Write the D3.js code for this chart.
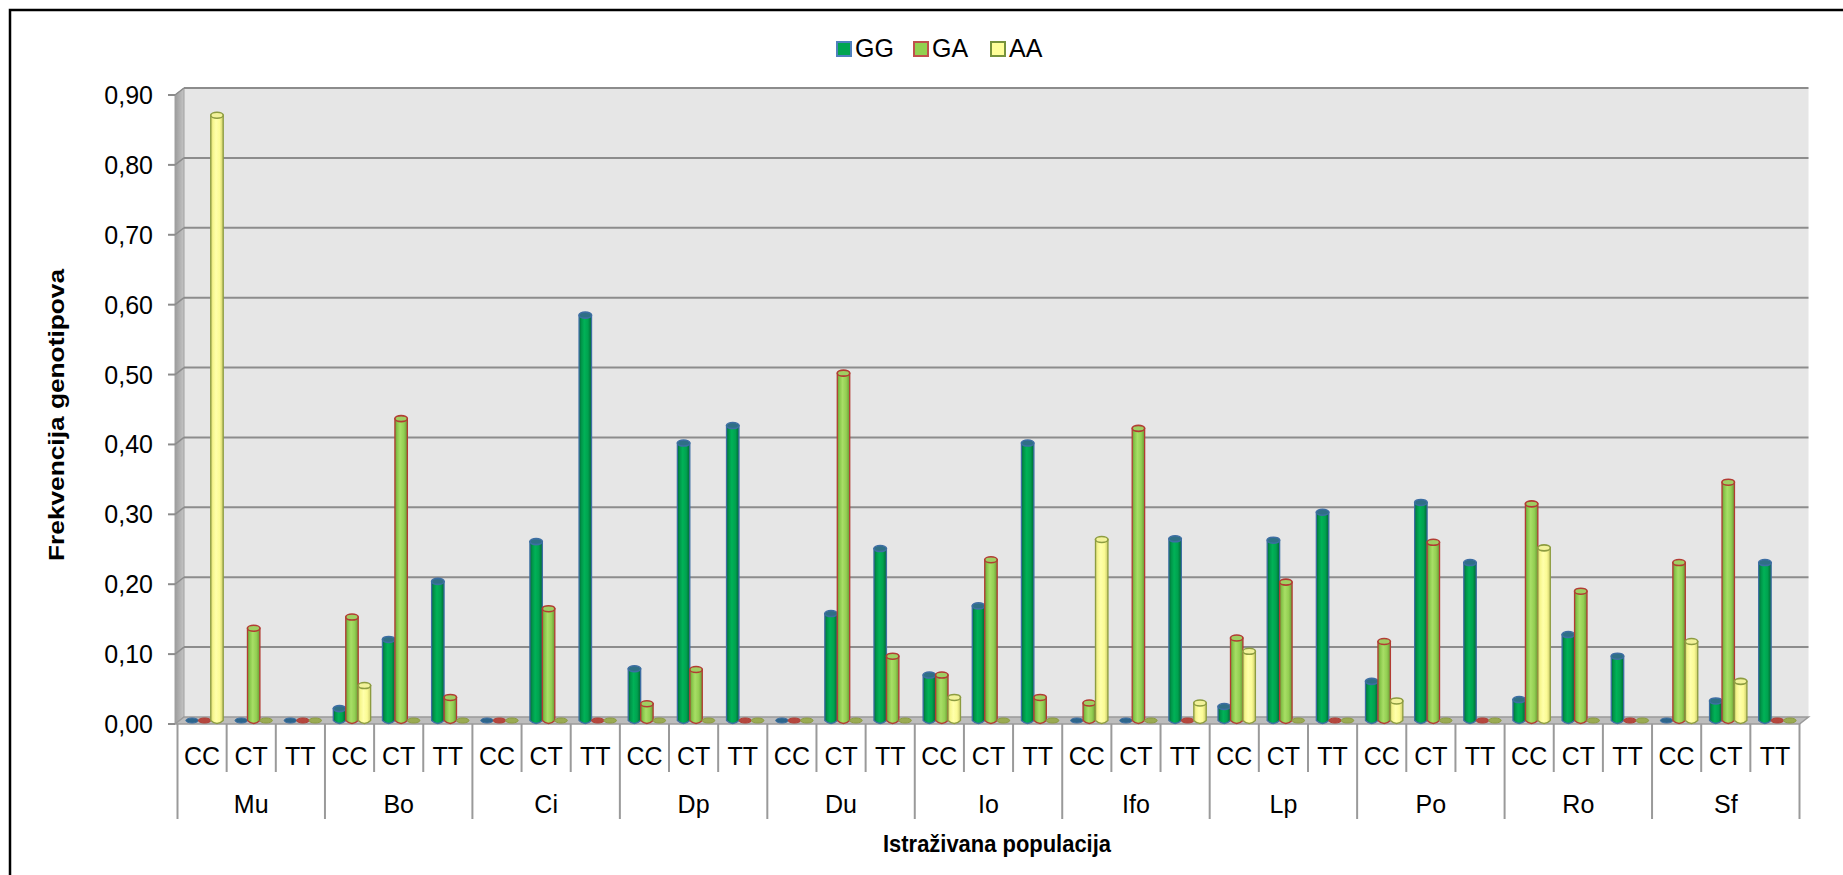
<!DOCTYPE html>
<html><head><meta charset="utf-8">
<script src="https://cdn.jsdelivr.net/npm/d3@7"></script>
<style>
html,body{margin:0;padding:0;background:#fff;overflow:hidden}
svg{display:block;font-family:"Liberation Sans",Arial,sans-serif}
</style></head>
<body><svg id="c" width="1843" height="875"></svg>
<script>
// ---------- data ----------
const groups = ["Mu","Bo","Ci","Dp","Du","Io","Ifo","Lp","Po","Ro","Sf"];
const genotypes = ["CC","CT","TT"];
const seriesNames = ["GG","GA","AA"];
const yTickValues = [0,0.1,0.2,0.3,0.4,0.5,0.6,0.7,0.8,0.9];
const yTickLabels = ["0,00","0,10","0,20","0,30","0,40","0,50","0,60","0,70","0,80","0,90"];
// values per (group, genotype) in order Mu-CC, Mu-CT, Mu-TT, Bo-CC, ...
const GG = [0,0,0, 0.017,0.116,0.199, 0,0.256,0.580, 0.074,0.397,0.422, 0,0.153,0.246,
            0.065,0.164,0.397, 0,0,0.260, 0.020,0.258,0.298, 0.056,0.312,0.226,
            0.030,0.123,0.092, 0,0.028,0.226];
const GA = [0,0.132,0, 0.148,0.432,0.033, 0,0.160,0, 0.024,0.073,0, 0,0.497,0.092,
            0.065,0.230,0.033, 0.025,0.418,0, 0.118,0.198,0, 0.113,0.255,0,
            0.310,0.185,0, 0.226,0.341,0];
const AA = [0.866,0,0, 0.050,0,0, 0,0,0, 0,0,0, 0,0,0,
            0.033,0,0, 0.259,0,0.025, 0.099,0,0, 0.028,0,0,
            0.247,0,0, 0.113,0.056,0];
const yTitle = "Frekvencija genotipova";
const xTitle = "Istraživana populacija";

const seriesValues = {GG:GG, GA:GA, AA:AA};
const style = {
  GG:{stops:["#006a36","#009549","#00b257","#00a24f","#006632"], stroke:"#3d6ea3", top:"#2f6f86", zero:"#2d668c", legStroke:"#4f81bd", leg:"#00a550"},
  GA:{stops:["#6c9c38","#88c64a","#a8de66","#93cf52","#6a9936"], stroke:"#b23c33", top:"#9fcf62", zero:"#b5473e", legStroke:"#c0504d", leg:"#92d050"},
  AA:{stops:["#d0d070","#f6f68e","#ffffaa","#fbfb95","#cccc6a"], stroke:"#8d9c40", top:"#f2f29a", zero:"#9aab52", legStroke:"#77933c", leg:"#ffff99"}
};

// ---------- layout ----------
const svg = d3.select("#c");
const frontX0 = 177.5, frontX1 = 1799.5;
const DX = 9, DY = -7;
const front0 = 724, front9 = 95;

const cats = [];
groups.forEach(g => genotypes.forEach(t => cats.push(g + "|" + t)));

const xSub = d3.scaleBand().domain(cats).range([frontX0, frontX1]).padding(0);
const bw = xSub.bandwidth();
const xSer = d3.scaleBand().domain(seriesNames).range([bw*0.17, bw*0.93]).padding(0);
const yFront = d3.scaleLinear().domain([0,0.9]).range([front0, front9]);
const yBack = d3.scaleLinear().domain([0,0.9]).range([front0+DY, front9+DY]);
const yBar = d3.scaleLinear().domain([0,0.9]).range([front0+DY/2, front9+DY/2]);

const defs = svg.append("defs");
seriesNames.forEach(s => {
  const g = defs.append("linearGradient").attr("id","g_"+s).attr("x1","0").attr("x2","1").attr("y1","0").attr("y2","0");
  const offs = [0,0.18,0.42,0.72,1];
  style[s].stops.forEach((c,i)=> g.append("stop").attr("offset",offs[i]).attr("stop-color",c));
});
const wallG = defs.append("linearGradient").attr("id","wallG").attr("x1","0").attr("x2","1").attr("y1","0").attr("y2","0");
wallG.append("stop").attr("offset",0).attr("stop-color","#9c9c9c");
wallG.append("stop").attr("offset",1).attr("stop-color","#c4c4c4");

// outer border
svg.append("rect").attr("x",10).attr("y",10).attr("width",1900).attr("height",900)
  .attr("fill","#fff").attr("stroke","#000").attr("stroke-width",2.5);

// back wall
const bx0 = frontX0 - 2.5 + DX, bx1 = frontX1 + DX;
svg.append("rect").attr("x",bx0).attr("y",yBack(0.9)).attr("width",bx1-bx0)
  .attr("height",yBack(0)-yBack(0.9)).attr("fill","#e6e6e6");

// left side wall
const lx = frontX0 - 2.5;
svg.append("polygon").attr("points",[[lx,yFront(0.9)],[lx+DX,yBack(0.9)],[lx+DX,yBack(0)],[lx,yFront(0)]].join(" "))
  .attr("fill","url(#wallG)").attr("stroke","#a0a0a0").attr("stroke-width",1);

// gridlines
const grid = svg.append("g");
yTickValues.filter(v=>v>0).forEach(v=>{
  grid.append("line").attr("x1",lx+DX).attr("x2",bx1).attr("y1",yBack(v)).attr("y2",yBack(v))
    .attr("stroke","#8c8c8c").attr("stroke-width",2);
  grid.append("line").attr("x1",lx).attr("x2",lx+DX).attr("y1",yFront(v)).attr("y2",yBack(v))
    .attr("stroke","#8c8c8c").attr("stroke-width",1.5);
});

// floor
svg.append("polygon").attr("points",[[lx,yFront(0)],[lx+DX,yBack(0)],[bx1,yBack(0)],[frontX1,yFront(0)]].join(" "))
  .attr("fill","#bdbdbd").attr("stroke","#9a9a9a").attr("stroke-width",1.5);

// y axis ticks & labels
const yAxis = svg.append("g");
yTickValues.forEach((v,i)=>{
  yAxis.append("line").attr("x1",lx-7).attr("x2",lx).attr("y1",yFront(v)).attr("y2",yFront(v))
    .attr("stroke","#8c8c8c").attr("stroke-width",2);
  yAxis.append("text").attr("x",153).attr("y",yFront(v)+9).attr("text-anchor","end")
    .attr("font-size",25).attr("fill","#000").text(yTickLabels[i]);
});

// bars
const bars = svg.append("g");
const ry = 3;
cats.forEach((c,ci)=>{
  seriesNames.forEach(s=>{
    const v = seriesValues[s][ci];
    const w = xSer.bandwidth();
    const x0 = xSub(c) + xSer(s);
    const cx = x0 + w/2;
    const base = yBar(0);
    const st = style[s];
    if (v <= 0.0005) {
      bars.append("ellipse").attr("cx",cx).attr("cy",base).attr("rx",w/2).attr("ry",ry-0.5)
        .attr("fill",st.zero).attr("stroke",st.stroke).attr("stroke-width",1);
      return;
    }
    const top = yBar(v);
    const p = d3.path();
    p.moveTo(x0, top);
    p.lineTo(x0, base);
    p.quadraticCurveTo(cx, base + ry*2, x0 + w, base);
    p.lineTo(x0 + w, top);
    p.closePath();
    bars.append("path").attr("d",p.toString()).attr("fill","url(#g_"+s+")")
      .attr("stroke",st.stroke).attr("stroke-width",1.3);
    bars.append("ellipse").attr("cx",cx).attr("cy",top).attr("rx",w/2).attr("ry",ry)
      .attr("fill",st.top).attr("stroke",st.stroke).attr("stroke-width",1.6);
  });
});

// category axis separators and labels
const xAxis = svg.append("g");
const sepTop = yFront(0);
cats.forEach((c,ci)=>{
  const xl = xSub(c);
  const isGroupStart = ci % 3 === 0;
  xAxis.append("line").attr("x1",xl).attr("x2",xl).attr("y1",sepTop).attr("y2",isGroupStart?819:772)
    .attr("stroke","#9a9a9a").attr("stroke-width",2);
  xAxis.append("text").attr("x",xl+bw/2).attr("y",765).attr("text-anchor","middle")
    .attr("font-size",25).attr("fill","#000").text(c.split("|")[1]);
});
xAxis.append("line").attr("x1",frontX1).attr("x2",frontX1).attr("y1",sepTop).attr("y2",819)
  .attr("stroke","#9a9a9a").attr("stroke-width",2);
groups.forEach(g=>{
  const xl = xSub(g+"|CC"), xr = xSub(g+"|TT") + bw;
  xAxis.append("text").attr("x",(xl+xr)/2).attr("y",813).attr("text-anchor","middle")
    .attr("font-size",25).attr("fill","#000").text(g);
});

// axis titles
svg.append("text").attr("x",997).attr("y",852).attr("text-anchor","middle")
  .attr("font-size",24).attr("font-weight","bold").attr("textLength",228).attr("lengthAdjust","spacingAndGlyphs")
  .text(xTitle);
svg.append("text").attr("transform","translate(64,415) rotate(-90)").attr("text-anchor","middle")
  .attr("font-size",22).attr("font-weight","bold").attr("textLength",292).attr("lengthAdjust","spacingAndGlyphs")
  .text(yTitle);

// legend
const leg = svg.append("g");
seriesNames.forEach((s,i)=>{
  const lx0 = 837 + i*77;
  leg.append("rect").attr("x",lx0).attr("y",42).attr("width",14).attr("height",14)
    .attr("fill",style[s].leg).attr("stroke",style[s].legStroke).attr("stroke-width",2);
  leg.append("text").attr("x",lx0+18).attr("y",57).attr("font-size",25).attr("fill","#000").text(s);
});
</script></body></html>
